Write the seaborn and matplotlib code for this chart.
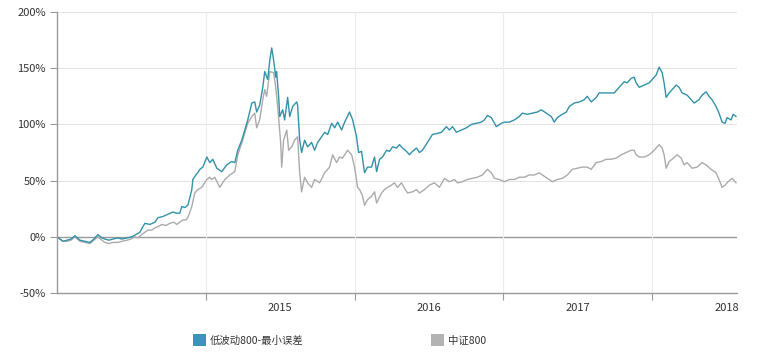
import numpy as np
import pandas as pd
import matplotlib
matplotlib.use("Agg")
import matplotlib.pyplot as plt
from matplotlib.patches import Patch
import seaborn as sns

# ---------------- data (decimal years, cumulative return %) ----------------
series_names = ["低波动800-最小误差", "中证800"]
colors = ["#3192aa", "#ababab"]
legend_colors = ["#3d94bb", "#b3b3b3"]

lowvol_t = [0.000, 0.020, 0.040, 0.067, 0.094, 0.121, 0.154, 0.188, 0.221, 0.248,
            0.275, 0.302, 0.322, 0.349, 0.376, 0.409, 0.436, 0.470, 0.503, 0.530,
            0.557, 0.577, 0.591, 0.624, 0.658, 0.678, 0.711, 0.745, 0.778, 0.805,
            0.825, 0.839, 0.859, 0.879, 0.893, 0.906, 0.913, 0.933, 0.946, 0.960,
            0.980, 1.007, 1.027, 1.047, 1.074, 1.107, 1.141, 1.174, 1.195, 1.215,
            1.242, 1.262, 1.282, 1.309, 1.329, 1.342, 1.362, 1.383, 1.396, 1.416,
            1.430, 1.443, 1.456, 1.470, 1.476, 1.490, 1.497, 1.517, 1.530, 1.550,
            1.564, 1.584, 1.611, 1.617, 1.631, 1.644, 1.664, 1.684, 1.711, 1.731,
            1.752, 1.778, 1.799, 1.819, 1.846, 1.866, 1.886, 1.913, 1.933, 1.966,
            1.987, 2.013, 2.027, 2.047, 2.054, 2.067, 2.087, 2.114, 2.134, 2.148,
            2.168, 2.188, 2.215, 2.235, 2.255, 2.282, 2.302, 2.322, 2.349, 2.369,
            2.389, 2.416, 2.436, 2.456, 2.490, 2.523, 2.557, 2.584, 2.617, 2.637,
            2.658, 2.684, 2.718, 2.752, 2.785, 2.819, 2.852, 2.872, 2.893, 2.919,
            2.953, 2.986, 3.007, 3.040, 3.074, 3.107, 3.127, 3.161, 3.195, 3.228,
            3.255, 3.288, 3.322, 3.342, 3.362, 3.396, 3.423, 3.443, 3.476, 3.510,
            3.544, 3.564, 3.590, 3.624, 3.644, 3.678, 3.711, 3.745, 3.765, 3.792,
            3.812, 3.832, 3.859, 3.879, 3.892, 3.913, 3.946, 3.980, 4.000, 4.027,
            4.047, 4.067, 4.080, 4.094, 4.114, 4.134, 4.161, 4.181, 4.201, 4.235,
            4.262, 4.282, 4.315, 4.335, 4.362, 4.382, 4.402, 4.429, 4.449, 4.470,
            4.490, 4.503, 4.530, 4.544, 4.564]
lowvol_v = [0, -2, -4, -3, -2, 1, -3, -4, -5, -2,
            2, -1, -2, -3, -2, -1, -2, -1, 0, 2,
            4, 9, 12, 11, 13, 17, 18, 20, 22, 21,
            21, 27, 26, 28, 35, 42, 51, 55, 57, 60,
            62, 71, 66, 69, 61, 58, 64, 67, 66, 77,
            86, 95, 104, 119, 120, 111, 117, 133, 147, 140,
            157, 168, 157, 142, 147, 124, 107, 113, 104, 124,
            107, 116, 120, 117, 86, 75, 86, 80, 84, 77,
            84, 89, 93, 91, 101, 97, 102, 95, 102, 111,
            104, 89, 75, 76, 69, 57, 62, 62, 71, 58,
            69, 71, 77, 76, 80, 79, 82, 79, 76, 73,
            76, 79, 75, 77, 84, 91, 92, 93, 98, 95,
            98, 93, 95, 97, 100, 101, 102, 104, 108, 106,
            98, 101, 102, 102, 104, 107, 110, 109, 110, 111,
            113, 110, 107, 102, 106, 109, 111, 116, 119, 120,
            122, 125, 120, 124, 128, 128, 128, 128, 131, 135,
            138, 137, 141, 142, 137, 133, 135, 137, 140, 144,
            151, 146, 137, 124, 128, 131, 135, 133, 128, 126,
            122, 119, 122, 126, 129, 125, 122, 116, 110, 102,
            101, 106, 104, 109, 107]

csi_t = [0.000, 0.020, 0.040, 0.067, 0.094, 0.121, 0.154, 0.188, 0.221, 0.248,
         0.275, 0.302, 0.322, 0.349, 0.376, 0.409, 0.436, 0.470, 0.497, 0.523,
         0.544, 0.570, 0.591, 0.611, 0.638, 0.658, 0.678, 0.705, 0.732, 0.758,
         0.785, 0.805, 0.825, 0.846, 0.866, 0.879, 0.893, 0.906, 0.926, 0.946,
         0.973, 1.007, 1.027, 1.040, 1.060, 1.094, 1.128, 1.161, 1.195, 1.215,
         1.248, 1.282, 1.309, 1.329, 1.342, 1.362, 1.383, 1.396, 1.409, 1.430,
         1.456, 1.470, 1.483, 1.503, 1.510, 1.523, 1.544, 1.557, 1.577, 1.597,
         1.617, 1.631, 1.644, 1.664, 1.684, 1.711, 1.731, 1.765, 1.799, 1.832,
         1.852, 1.879, 1.899, 1.919, 1.953, 1.980, 2.000, 2.020, 2.034, 2.054,
         2.067, 2.087, 2.114, 2.134, 2.148, 2.181, 2.201, 2.221, 2.248, 2.268,
         2.288, 2.315, 2.336, 2.356, 2.389, 2.416, 2.436, 2.470, 2.503, 2.537,
         2.570, 2.604, 2.637, 2.671, 2.691, 2.725, 2.758, 2.792, 2.825, 2.859,
         2.893, 2.919, 2.940, 2.973, 3.007, 3.040, 3.074, 3.107, 3.141, 3.174,
         3.208, 3.241, 3.262, 3.295, 3.329, 3.362, 3.396, 3.430, 3.463, 3.497,
         3.530, 3.564, 3.590, 3.624, 3.658, 3.691, 3.725, 3.758, 3.792, 3.825,
         3.859, 3.879, 3.892, 3.913, 3.946, 3.980, 4.013, 4.047, 4.067, 4.080,
         4.094, 4.114, 4.134, 4.168, 4.195, 4.215, 4.235, 4.268, 4.302, 4.335,
         4.362, 4.396, 4.429, 4.449, 4.470, 4.490, 4.510, 4.537, 4.564]
csi_v = [0, -2, -4, -4, -3, 0, -4, -5, -6, -3,
         0, -3, -5, -6, -5, -5, -4, -3, -2, 0,
         -1, 2, 4, 6, 6, 8, 9, 11, 10, 12,
         13, 11, 13, 15, 15, 17, 22, 27, 39, 42,
         44, 51, 53, 51, 53, 44, 51, 55, 58, 73,
         86, 101, 107, 110, 97, 104, 122, 131, 125, 147,
         146, 133, 116, 84, 62, 86, 95, 77, 80, 86,
         89, 57, 40, 53, 48, 44, 51, 48, 57, 62,
         73, 66, 71, 70, 77, 73, 62, 44, 42, 36,
         28, 33, 36, 40, 30, 39, 42, 44, 46, 48,
         44, 48, 43, 39, 40, 42, 39, 42, 46, 48,
         44, 52, 49, 51, 48, 49, 51, 52, 53, 55,
         60, 57, 52, 51, 49, 51, 51, 53, 53, 55,
         55, 57, 55, 52, 49, 51, 52, 55, 60, 61,
         62, 62, 60, 66, 67, 69, 69, 70, 73, 75,
         77, 77, 73, 71, 71, 73, 77, 82, 79, 73,
         61, 67, 69, 73, 70, 64, 66, 61, 62, 66,
         64, 60, 57, 51, 44, 46, 49, 52, 48]

base_year = 2014
year_ticks = [2015, 2016, 2017, 2018]
y_ticks = [-50, 0, 50, 100, 150, 200]

# ---------------- build frame ----------------
df = pd.concat([
    pd.DataFrame({"year": base_year + np.array(lowvol_t), "ret": lowvol_v,
                  "series": series_names[0]}),
    pd.DataFrame({"year": base_year + np.array(csi_t), "ret": csi_v,
                  "series": series_names[1]}),
])

sns.set_theme(style="white")
plt.rcParams["font.family"] = ["Noto Sans CJK SC", "DejaVu Sans"]

fig = plt.figure(figsize=(7.77, 3.61), dpi=100)
ax = fig.add_axes([57 / 777, 1 - 293 / 361, (737 - 57) / 777, (293 - 12) / 361])

# draw grey first so that teal sits on top
sns.lineplot(data=df, x="year", y="ret", hue="series",
             hue_order=[series_names[1], series_names[0]],
             palette={series_names[0]: colors[0], series_names[1]: colors[1]},
             estimator=None, sort=True, linewidth=1.0, legend=False, ax=ax)

ax.set_xlim(base_year, base_year + 4.57)
ax.set_ylim(-50, 200)

# grid
ax.set_yticks(y_ticks)
ax.set_yticklabels([f"{v}%" for v in y_ticks])
for v in y_ticks[1:]:
    ax.axhline(v, color="#9a9a9a" if v == 0 else "#e4e4e4", lw=1.0 if v == 0 else 0.8, zorder=0)
ax.set_xticks(year_ticks)
ax.set_xticklabels([])
for yr in year_ticks:
    ax.axvline(yr, color="#ececec", lw=0.8, zorder=0)
ax.set_xticks([y + 0.5 for y in year_ticks], minor=True)
ax.set_xticklabels([str(y) for y in year_ticks], minor=True)

ax.tick_params(axis="x", which="major", length=5, width=0.8, color="#9a9a9a", direction="out", bottom=True)
ax.tick_params(axis="x", which="minor", length=0, pad=7, labelsize=8, labelcolor="#333333")
ax.tick_params(axis="y", length=5, width=0.8, color="#9a9a9a", direction="out", left=True,
               labelsize=8, labelcolor="#333333", pad=3)

for s in ["top", "right"]:
    ax.spines[s].set_visible(False)
for s in ["left", "bottom"]:
    ax.spines[s].set_color("#9a9a9a")
    ax.spines[s].set_linewidth(1.0)

ax.set_xlabel("")
ax.set_ylabel("")

handles = [Patch(facecolor=legend_colors[0], edgecolor="none"),
           Patch(facecolor=legend_colors[1], edgecolor="none")]
fig.legend(handles, series_names, loc="center left",
           bbox_to_anchor=(193 / 777, 1 - 340 / 361), ncol=2, frameon=False,
           handlelength=1.25, handleheight=1.25, handletextpad=0.35,
           columnspacing=12.3, borderpad=0, borderaxespad=0,
           prop={"size": 7.5}, labelcolor="#333333")

fig.savefig("out.png", dpi=100)
